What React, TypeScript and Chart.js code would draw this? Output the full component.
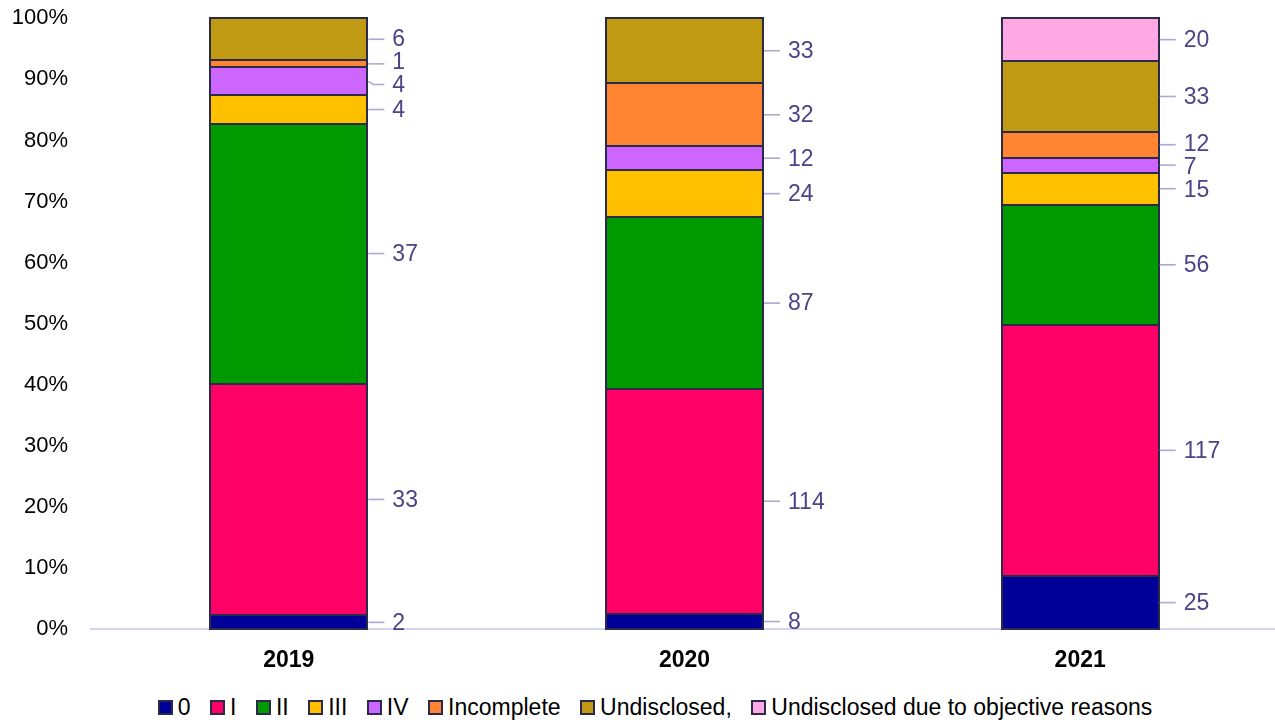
import React, { useEffect, useRef } from "react";
import { Chart, registerables } from "chart.js";

Chart.register(...registerables);

// ---- data ----
const years = ["2019", "2020", "2021"];
const seriesNames = ["0", "I", "II", "III", "IV", "Incomplete", "Undisclosed,", "Undisclosed due to objective reasons"];
const s0 = [2, 8, 25];
const sI = [33, 114, 117];
const sII = [37, 87, 56];
const sIII = [4, 24, 15];
const sIV = [4, 12, 7];
const sIncomplete = [1, 32, 12];
const sUndisclosed = [6, 33, 33];
const sObjective = [0, 0, 20];
const yTickValues = [0, 10, 20, 30, 40, 50, 60, 70, 80, 90, 100];

const counts = [s0, sI, sII, sIII, sIV, sIncomplete, sUndisclosed, sObjective];
const colors = ["#000099", "#FF0066", "#009900", "#FFC000", "#CC66FF", "#FF8533", "#BF9A12", "#FFA8E4"];

const FONT = "'Liberation Sans', Arial, sans-serif";
const LABEL_COLOR = "#4A4488";
const LEADER_COLOR = "#ABA8D3";
const BORDER = "#2B2A4A";

const totals = years.map((_, i) => counts.reduce((s, arr) => s + arr[i], 0));

const segmentBorders = {
  id: "segmentBorders",
  afterDatasetsDraw(chart: any) {
    const ctx = chart.ctx;
    ctx.save();
    ctx.strokeStyle = BORDER;
    ctx.lineWidth = 2;
    chart.data.datasets.forEach((ds: any, di: number) => {
      const meta = chart.getDatasetMeta(di);
      meta.data.forEach((el: any, i: number) => {
        if (!counts[di][i]) return;
        const p = el.getProps(["x", "y", "base", "width"], true);
        const l = Math.round(p.x - p.width / 2);
        const r = Math.round(p.x + p.width / 2);
        const t = Math.round(p.y);
        const b = Math.round(p.base);
        ctx.strokeRect(l, t, r - l, b - t);
      });
    });
    ctx.restore();
  },
};

const sideLabels = {
  id: "sideLabels",
  afterDatasetsDraw(chart: any) {
    const ctx = chart.ctx;
    const top = chart.chartArea.top;
    years.forEach((_, i) => {
      const items: any[] = [];
      chart.data.datasets.forEach((ds: any, di: number) => {
        const raw = counts[di][i];
        if (!raw) return;
        const el = chart.getDatasetMeta(di).data[i];
        const p = el.getProps(["x", "y", "base", "width"], true);
        const a = (p.y + p.base) / 2;
        items.push({ text: String(raw), anchor: a, y: a, right: p.x + p.width / 2 });
      });
      items.sort((a, b) => a.anchor - b.anchor);
      const gap = 23;
      for (let it = 0; it < 200; it++) {
        let moved = false;
        for (let k = 0; k < items.length - 1; k++) {
          const d = items[k + 1].y - items[k].y;
          if (d < gap - 0.01) {
            const s = (gap - d) / 2;
            items[k].y -= s;
            items[k + 1].y += s;
            moved = true;
          }
        }
        if (items.length && items[0].y < top + 10) {
          const sh = top + 10 - items[0].y;
          items[0].y += sh;
          moved = true;
        }
        if (!moved) break;
      }
      ctx.save();
      ctx.font = `23px ${FONT}`;
      ctx.textBaseline = "middle";
      ctx.textAlign = "left";
      items.forEach((it) => {
        ctx.strokeStyle = LEADER_COLOR;
        ctx.lineWidth = 1.6;
        ctx.beginPath();
        ctx.moveTo(it.right + 1, it.anchor);
        if (Math.abs(it.y - it.anchor) < 3) {
          ctx.lineTo(it.right + 17, it.anchor);
        } else {
          ctx.lineTo(it.right + 6, it.y);
          ctx.lineTo(it.right + 17, it.y);
        }
        ctx.stroke();
        ctx.fillStyle = LABEL_COLOR;
        ctx.fillText(it.text, it.right + 25, it.y + 1);
      });
      ctx.restore();
    });
  },
};

export default function App() {
  const ref = useRef<HTMLCanvasElement>(null);
  useEffect(() => {
    if (!ref.current) return;
    const chart = new Chart(ref.current, {
      type: "bar",
      data: {
        labels: years,
        datasets: seriesNames.map((name, di) => ({
          label: name,
          data: counts[di].map((v, i) => (v / totals[i]) * 100),
          backgroundColor: colors[di],
          borderWidth: 0,
          barPercentage: 0.397,
          categoryPercentage: 1,
        })),
      },
      options: {
        animation: false,
        responsive: true,
        maintainAspectRatio: false,
        layout: { padding: { top: 6, left: 0, right: 0, bottom: 0 } },
        plugins: { legend: { display: false }, tooltip: { enabled: false } },
        scales: {
          x: {
            stacked: true,
            grid: { display: false, drawTicks: false },
            border: { display: true, color: "#D6D4EC", width: 2 },
            ticks: { color: "#000", font: { family: FONT, size: 23, weight: "bold" }, padding: 17 },
          },
          y: {
            stacked: true,
            min: 0,
            max: 100,
            afterFit: (s: any) => {
              s.width = 91;
            },
            afterBuildTicks: (s: any) => {
              s.ticks = yTickValues.map((v) => ({ value: v }));
            },
            grid: { display: false, drawTicks: false },
            border: { display: false },
            ticks: {
              color: "#000",
              font: { family: FONT, size: 22 },
              padding: 23,
              callback: (v: any) => `${v}%`,
            },
          },
        },
      },
      plugins: [segmentBorders, sideLabels],
    });
    return () => chart.destroy();
  }, []);

  return (
    <div style={{ position: "absolute", left: 0, top: 0, width: 1275, height: 723, overflow: "hidden", background: "#fff" }}>
      <div style={{ position: "absolute", left: 0, top: -18, width: 1278, height: 709 }}>
        <canvas ref={ref} />
      </div>
      <div
        style={{
          position: "absolute",
          left: 0,
          top: 693,
          width: 1275,
          height: 28,
          display: "flex",
          justifyContent: "center",
          alignItems: "center",
          paddingLeft: 35,
          boxSizing: "border-box",
          fontFamily: FONT,
          fontSize: 23,
          color: "#000",
          whiteSpace: "pre",
        }}
      >
        {seriesNames.map((n, i) => (
          <div key={n} style={{ display: "flex", alignItems: "center", marginRight: i === seriesNames.length - 1 ? 0 : 19.5 }}>
            <span
              style={{
                display: "inline-block",
                width: 11,
                height: 11,
                background: colors[i],
                border: `2px solid ${BORDER}`,
                marginRight: 5,
              }}
            />
            <span>{n}</span>
          </div>
        ))}
      </div>
    </div>
  );
}
